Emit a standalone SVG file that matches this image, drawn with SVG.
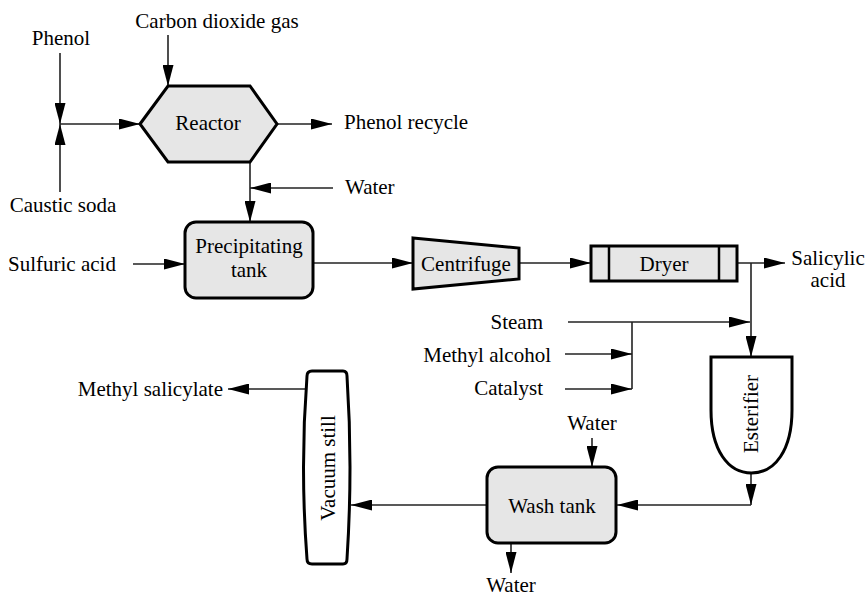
<svg xmlns="http://www.w3.org/2000/svg" width="867" height="598" viewBox="0 0 867 598">
<defs>
<marker id="ah" viewBox="0 0 21 11" refX="21" refY="5.5" markerWidth="21" markerHeight="11" markerUnits="userSpaceOnUse" orient="auto">
<path d="M0,0 L21,5.5 L0,11 Z" fill="#000"/>
</marker>
</defs>
<style>
text{font-family:"Liberation Serif","Times New Roman",serif;font-size:21px;fill:#000}
.c{text-anchor:middle}
.e{text-anchor:end}
.n{fill:#e6e6e6;stroke:#000;stroke-width:3;stroke-linejoin:miter}
.w{fill:#fff;stroke:#000;stroke-width:3}
.l{fill:none;stroke:#222;stroke-width:1.6}
.a{fill:none;stroke:#222;stroke-width:1.6;marker-end:url(#ah)}
</style>
<rect width="867" height="598" fill="#fff"/>
<g id="connectors">
<line class="a" x1="60" y1="53" x2="60" y2="124"/>
<line class="a" x1="60" y1="192" x2="60" y2="124"/>
<line class="a" x1="60" y1="124" x2="140" y2="124"/>
<line class="a" x1="168" y1="35" x2="168" y2="86"/>
<line class="a" x1="277" y1="124" x2="332" y2="124"/>
<line class="a" x1="250" y1="162" x2="250" y2="222"/>
<line class="a" x1="333" y1="188" x2="250" y2="188"/>
<line class="a" x1="133" y1="264" x2="185" y2="264"/>
<line class="a" x1="313" y1="263" x2="413" y2="263"/>
<line class="a" x1="519" y1="263" x2="591" y2="263"/>
<line class="a" x1="737" y1="263" x2="785" y2="263"/>
<line class="a" x1="751" y1="263" x2="751" y2="357"/>
<line class="a" x1="568" y1="322" x2="750" y2="322"/>
<line class="l" x1="632" y1="322" x2="632" y2="389"/>
<line class="a" x1="565" y1="354" x2="632" y2="354"/>
<line class="a" x1="565" y1="389" x2="632" y2="389"/>
<line class="a" x1="751" y1="473" x2="751" y2="505"/>
<line class="a" x1="751" y1="505" x2="617" y2="505"/>
<line class="a" x1="592" y1="438" x2="592" y2="467"/>
<line class="a" x1="511" y1="543" x2="511" y2="573"/>
<line class="a" x1="487" y1="505" x2="351" y2="505"/>
<line class="a" x1="305" y1="389" x2="228" y2="389"/>
</g>
<g id="reactor">
<polygon class="n" points="140,124 168,86 250,86 277,124 250,162 168,162"/>
<text class="c" x="208" y="130">Reactor</text>
</g>
<g id="precipitating-tank">
<rect class="n" x="185" y="222" width="128" height="76" rx="11"/>
<text class="c" x="249" y="253">Precipitating</text>
<text class="c" x="249" y="277">tank</text>
</g>
<g id="centrifuge">
<polygon class="n" points="413,238 519,248 519,279 413,289"/>
<text class="c" x="466" y="271">Centrifuge</text>
</g>
<g id="dryer">
<rect class="n" x="591" y="246" width="146" height="35"/>
<line x1="609" y1="246" x2="609" y2="281" stroke="#000" stroke-width="2.5"/>
<line x1="719" y1="246" x2="719" y2="281" stroke="#000" stroke-width="2.5"/>
<text class="c" x="664" y="271">Dryer</text>
</g>
<g id="esterifier">
<path class="w" d="M711,357 H792 V410 C792,450 775,473 751.5,473 C728,473 711,450 711,410 Z"/>
<text class="c" transform="translate(758,414) rotate(-90)">Esterifier</text>
</g>
<g id="wash-tank">
<rect class="n" x="487" y="467" width="129" height="76" rx="11"/>
<text class="c" x="552" y="513">Wash tank</text>
</g>
<g id="vacuum-still">
<path class="w" d="M312,371 L343,371 Q347,371 347,376 Q353,467 347,559 Q347,564 343,564 L312,564 Q307,564 307,559 Q300,467 307,376 Q307,371 312,371 Z"/>
<text class="c" transform="translate(335,468) rotate(-90)">Vacuum still</text>
</g>
<g id="labels">
<text class="c" x="61" y="45">Phenol</text>
<text class="c" x="217" y="28">Carbon dioxide gas</text>
<text class="c" x="63" y="212">Caustic soda</text>
<text x="344" y="129">Phenol recycle</text>
<text x="345" y="194">Water</text>
<text x="8" y="271">Sulfuric acid</text>
<text class="c" x="828" y="265">Salicylic</text>
<text class="c" x="828" y="287">acid</text>
<text class="e" x="543" y="329">Steam</text>
<text class="e" x="551" y="362">Methyl alcohol</text>
<text class="e" x="543" y="395">Catalyst</text>
<text class="c" x="592" y="430">Water</text>
<text class="c" x="511" y="592">Water</text>
<text class="e" x="223" y="396">Methyl salicylate</text>
</g>
</svg>
